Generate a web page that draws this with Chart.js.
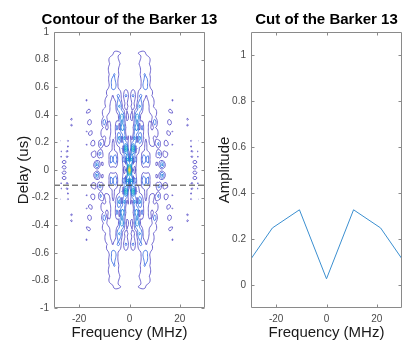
<!DOCTYPE html>
<html>
<head>
<meta charset="utf-8">
<script src="https://cdn.jsdelivr.net/npm/chart.js@4.4.1/dist/chart.umd.min.js"></script>
<style>
  html, body { margin: 0; padding: 0; background: #fff; }
  #wrap { position: relative; width: 409px; height: 345px; }
  #wrap canvas { position: absolute; left: 0; top: 0; }
</style>
</head>
<body>
<div id="wrap">
  <canvas id="contourChart" width="409" height="345"></canvas>
  <canvas id="cutChart" width="409" height="345"></canvas>
</div>
<script>
// --- data ---
const barkerCode = [1, 1, 1, 1, 1, -1, -1, 1, 1, -1, 1, -1, 1];
const contourLevels = [0.1, 0.2, 0.3, 0.4, 0.5, 0.6, 0.7, 0.8, 0.9];
const cutDelay = -0.11; // us, dashed line on the contour
const cutFreq = [-32.25, -21.5, -10.75, 0, 10.75, 21.5, 32.25];
const cutAmp = [0.078, 0.248, 0.327, 0.027, 0.327, 0.248, 0.078];
const freqTicks = [-20, 0, 20];
const delayTicks = [-1, -0.8, -0.6, -0.4, -0.2, 0, 0.2, 0.4, 0.6, 0.8, 1];
const ampTicks = [0, 0.2, 0.4, 0.6, 0.8, 1];
const freqRange = [-30, 30];
const delayRange = [-1, 1];
const ampRange = [-0.1, 1.1];

const FONT = "'Liberation Sans', Arial, Helvetica, sans-serif";
const AXIS_GREY = "#8a8a8a";
const TICK_TEXT = "#4a4a4a";

// parula-ish colours, lowest level -> purple, highest -> yellow
const parula = [
  [78, 66, 196], [45, 100, 226], [18, 125, 216], [7, 156, 207], [21, 177, 180],
  [89, 189, 140], [165, 190, 107], [225, 185, 82], [249, 251, 14],
];
function parulaAt(t) {
  const p = Math.max(0, Math.min(1, t)) * (parula.length - 1);
  const i = Math.min(parula.length - 2, Math.floor(p));
  const f = p - i;
  const c = parula[i].map((v, k) => Math.round(v + (parula[i + 1][k] - v) * f));
  return `rgb(${c[0]}, ${c[1]}, ${c[2]})`;
}

// --- ambiguity surface of the Barker 13 pulse (1 us long) ---
const samplesPerChip = 8;
const chipWidth = 1 / barkerCode.length; // us
const fs = samplesPerChip / chipWidth; // samples per us (MHz)
const wave = barkerCode.flatMap((c) => Array(samplesPerChip).fill(c));
const N = wave.length;

const gridFreq = [];
for (let j = 0; j <= 120; j++) gridFreq.push(freqRange[0] + j * 0.5);
const gridDelay = [];
const gridAmb = [];
(function buildSurface() {
  const cosT = gridFreq.map((f) => wave.map((_, n) => Math.cos(2 * Math.PI * f * n / fs)));
  const sinT = gridFreq.map((f) => wave.map((_, n) => Math.sin(2 * Math.PI * f * n / fs)));
  for (let k = -(N - 1); k <= N - 1; k++) {
    gridDelay.push(k / fs);
    const n0 = Math.max(0, -k);
    const n1 = Math.min(N, N - k);
    const row = [];
    for (let j = 0; j < gridFreq.length; j++) {
      let re = 0, im = 0;
      const c = cosT[j], s = sinT[j];
      for (let n = n0; n < n1; n++) {
        const p = wave[n] * wave[n + k];
        re += p * c[n];
        im += p * s[n];
      }
      row.push(Math.hypot(re, im) / N);
    }
    gridAmb.push(row);
  }
})();

function contourSegments(level) {
  const segs = [];
  const lerp = (a, b, va, vb) => a + (b - a) * (level - va) / (vb - va);
  for (let i = 0; i < gridDelay.length - 1; i++) {
    const y0 = gridDelay[i], y1 = gridDelay[i + 1];
    for (let j = 0; j < gridFreq.length - 1; j++) {
      const x0 = gridFreq[j], x1 = gridFreq[j + 1];
      const a = gridAmb[i][j], b = gridAmb[i][j + 1];
      const c = gridAmb[i + 1][j + 1], d = gridAmb[i + 1][j];
      const pts = [];
      if ((a >= level) !== (b >= level)) pts.push([lerp(x0, x1, a, b), y0]);
      if ((b >= level) !== (c >= level)) pts.push([x1, lerp(y0, y1, b, c)]);
      if ((d >= level) !== (c >= level)) pts.push([lerp(x0, x1, d, c), y1]);
      if ((a >= level) !== (d >= level)) pts.push([x0, lerp(y0, y1, a, d)]);
      if (pts.length === 2) segs.push(pts);
      else if (pts.length === 4) {
        const mid = (a + b + c + d) / 4;
        if ((mid >= level) === (a >= level)) {
          segs.push([pts[0], pts[1]], [pts[2], pts[3]]);
        } else {
          segs.push([pts[0], pts[3]], [pts[1], pts[2]]);
        }
      }
    }
  }
  return segs;
}
const lvMin = contourLevels[0];
const lvMax = contourLevels[contourLevels.length - 1];
const contourPaths = contourLevels.map((lv) => ({
  level: lv,
  color: parulaAt((lv - lvMin) / (lvMax - lvMin)),
  segs: contourSegments(lv),
}));

// --- plugins ---
const contourPlugin = {
  id: "contourLines",
  beforeDatasetsDraw(chart) {
    if (chart.canvas.id !== "contourChart") return;
    const { ctx, chartArea, scales } = chart;
    ctx.save();
    ctx.beginPath();
    ctx.rect(chartArea.left, chartArea.top, chartArea.right - chartArea.left, chartArea.bottom - chartArea.top);
    ctx.clip();
    ctx.lineWidth = 0.8;
    ctx.lineJoin = "round";
    contourPaths.forEach((p) => {
      ctx.strokeStyle = p.color;
      ctx.beginPath();
      p.segs.forEach(([s, e]) => {
        ctx.moveTo(scales.x.getPixelForValue(s[0]), scales.y.getPixelForValue(s[1]));
        ctx.lineTo(scales.x.getPixelForValue(e[0]), scales.y.getPixelForValue(e[1]));
      });
      ctx.stroke();
    });
    ctx.restore();
  },
};

const matlabAxesPlugin = {
  id: "matlabAxes",
  afterDraw(chart, args, opts) {
    const { ctx, chartArea: a, scales } = chart;
    const L = Math.round(a.left) + 0.5, R = Math.round(a.right) - 0.5;
    const T = Math.round(a.top) + 0.5, B = Math.round(a.bottom) - 0.5;
    ctx.save();
    ctx.strokeStyle = AXIS_GREY;
    ctx.lineWidth = 1;
    ctx.beginPath();
    ctx.rect(L, T, R - L, B - T);
    const tl = 3;
    scales.x.ticks.forEach((t) => {
      const x = Math.round(scales.x.getPixelForValue(t.value)) + 0.5;
      ctx.moveTo(x, B); ctx.lineTo(x, B - tl);
      ctx.moveTo(x, T); ctx.lineTo(x, T + tl);
    });
    scales.y.ticks.forEach((t) => {
      const y = Math.round(scales.y.getPixelForValue(t.value)) + 0.5;
      ctx.moveTo(L, y); ctx.lineTo(L + tl, y);
      ctx.moveTo(R, y); ctx.lineTo(R - tl, y);
    });
    ctx.stroke();
    // bold title, centred over the axes
    ctx.fillStyle = "#000";
    ctx.font = `bold 15px ${FONT}`;
    ctx.textAlign = "center";
    ctx.textBaseline = "alphabetic";
    ctx.fillText(opts.text, (a.left + a.right) / 2, a.top - 8);
    ctx.restore();
  },
};

function fmtTick(v) {
  return String(Math.round(v * 10) / 10);
}

function axisOptions(range, ticks, title, isX, width, titlePad) {
  return {
    type: "linear",
    min: range[0],
    max: range[1],
    afterBuildTicks: (scale) => {
      scale.ticks = ticks.map((v) => ({ value: v }));
    },
    afterFit: (scale) => {
      if (isX) scale.height = width;
      else scale.width = width;
    },
    grid: { display: false, drawTicks: false },
    border: { display: false },
    ticks: {
      color: TICK_TEXT,
      font: { family: FONT, size: 10 },
      padding: 5,
      maxRotation: 0,
      autoSkip: false,
      callback: (v) => fmtTick(v),
    },
    title: {
      display: true,
      text: title,
      color: "#1a1a1a",
      font: { family: FONT, size: 15 },
      padding: isX ? { top: 0, bottom: 3 } : { top: titlePad, bottom: 0 },
    },
  };
}

function baseOptions(padLeft, padRight, title) {
  return {
    responsive: false,
    animation: false,
    devicePixelRatio: 1,
    layout: { padding: { left: padLeft, right: padRight, top: 32, bottom: 0 } },
    plugins: {
      legend: { display: false },
      tooltip: { enabled: false },
      title: { display: false },
      matlabAxes: { text: title },
    },
  };
}

// --- left: contour ---
const contourOpts = baseOptions(8, 204, "Contour of the Barker 13");
contourOpts.scales = {
  x: axisOptions(freqRange, freqTicks, "Frequency (MHz)", true, 37),
  y: axisOptions(delayRange, delayTicks, "Delay (us)", false, 46, 7),
};
new Chart(document.getElementById("contourChart"), {
  type: "scatter",
  data: {
    datasets: [
      {
        data: [
          { x: freqRange[0], y: cutDelay },
          { x: freqRange[1], y: cutDelay },
        ],
        showLine: true,
        borderColor: "#3a3a3a",
        borderWidth: 1,
        borderDash: [6, 3],
        pointRadius: 0,
      },
    ],
  },
  options: contourOpts,
  plugins: [contourPlugin, matlabAxesPlugin],
});

// --- right: doppler cut ---
const cutOpts = baseOptions(208, 7, "Cut of the Barker 13");
cutOpts.scales = {
  x: axisOptions(freqRange, freqTicks, "Frequency (MHz)", true, 37),
  y: axisOptions(ampRange, ampTicks, "Amplitude", false, 43, 7.5),
};
new Chart(document.getElementById("cutChart"), {
  type: "scatter",
  data: {
    datasets: [
      {
        data: cutFreq.map((f, i) => ({ x: f, y: cutAmp[i] })),
        showLine: true,
        borderColor: "#3b8fd0",
        borderWidth: 1,
        pointRadius: 0,
        tension: 0,
      },
    ],
  },
  options: cutOpts,
  plugins: [matlabAxesPlugin],
});
</script>
</body>
</html>
